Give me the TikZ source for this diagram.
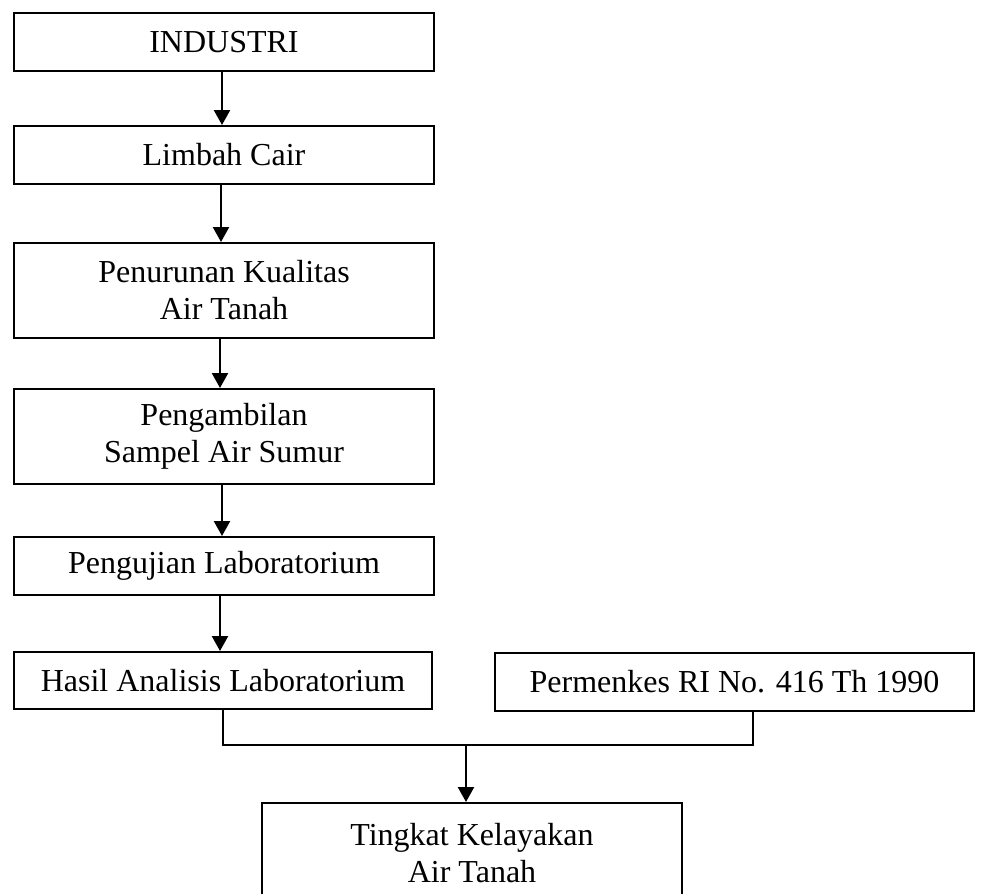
\documentclass[tikz,border=0pt]{standalone}
\usepackage{fontspec}
\setmainfont{Liberation Serif}
\usetikzlibrary{arrows.meta}

\begin{document}
\begin{tikzpicture}[x=1pt,y=-1pt,>={Triangle[length=15pt,width=16pt]},line join=miter,
  stepbox/.style={draw,line width=2pt,align=center,inner sep=0pt,font=\fontsize{32}{37}\selectfont},
  flow/.style={->,line width=2.4pt}]
\useasboundingbox (0,0) rectangle (989,894);
\node[stepbox,minimum width=420pt,minimum height=58pt] (industri) at (224,42) {INDUSTRI};
\node[stepbox,minimum width=420pt,minimum height=58pt] (limbah) at (224,155) {Limbah Cair};
\node[stepbox,minimum width=420pt,minimum height=95pt] (penurunan) at (224,290.5) {Penurunan Kualitas\\ Air Tanah};
\node[stepbox,minimum width=420pt,minimum height=95pt] (sampel) at (224,436.5) {Pengambilan\\Sampel Air Sumur};
\node[stepbox,minimum width=420pt,minimum height=58pt] (uji) at (224,566) {Pengujian Laboratorium};
\node[stepbox,minimum width=418pt,minimum height=57pt] (hasil) at (223,680.5) {Hasil Analisis Laboratorium};
\node[stepbox,minimum width=479pt,minimum height=58pt] (permenkes) at (734.5,682) {Permenkes RI No. 416 Th 1990};
\node[stepbox,minimum width=420pt,minimum height=100pt] (layak) at (472,853) {Tingkat Kelayakan\\Air Tanah};
\coordinate (gabung) at (466,745);
\coordinate (permenkesbawah) at ([xshift=18.5pt]permenkes.south);
\draw[flow] ([xshift=-2pt]industri.south) -- ([xshift=-2pt]limbah.north);
\draw[flow] ([xshift=-3pt]limbah.south) -- ([xshift=-3pt]penurunan.north);
\draw[flow] ([xshift=-4pt]penurunan.south) -- ([xshift=-4pt]sampel.north);
\draw[flow] ([xshift=-2pt]sampel.south) -- ([xshift=-2pt]uji.north);
\draw[flow] ([xshift=-4pt]uji.south) -- ([xshift=-4pt]uji.south |- hasil.north);
\draw[line width=2pt] (hasil.south) |- (gabung) -| (permenkesbawah);
\draw[flow] (gabung) -- (gabung |- layak.north);
\end{tikzpicture}
\end{document}
